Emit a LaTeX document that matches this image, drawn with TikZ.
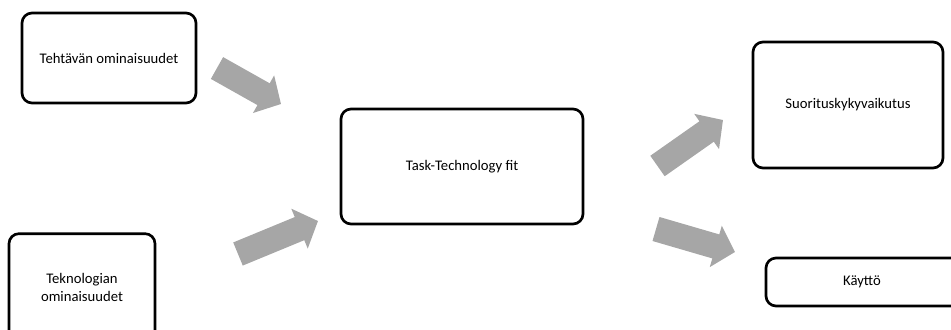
\documentclass[tikz,border=0pt]{standalone}
\usepackage{fontspec}
\setmainfont{Carlito}
\usepackage{xcolor}
\usetikzlibrary{arrows.meta}
\definecolor{arrowgray}{RGB}{166,166,166}

\begin{document}
\begin{tikzpicture}[x=0.75pt, y=-0.75pt, line join=round,
    box/.style={draw, line width=2pt, rounded corners=7.5pt, align=center,
        font=\fontsize{11}{13.5}\selectfont, inner sep=2pt},
    blockarrow/.style={draw=arrowgray, line width=18.75pt, line cap=butt,
        -{Triangle[length=15pt, width=31.5pt, fill=arrowgray]}}]
    % Frame
    \useasboundingbox (0,0) rectangle (951,329);

    % Boxes
    \node[box, minimum width=130.5pt, minimum height=67.5pt] (task) at (109,58) {Tehtävän ominaisuudet};
    \node[box, minimum width=109.5pt, minimum height=80pt] (tech) at (82,287) {Teknologian\\ominaisuudet};
    \node[box, minimum width=181.5pt, minimum height=86.25pt] (ttf) at (462,166.5) {Task-Technology fit};
    \node[box, minimum width=142.5pt, minimum height=94.5pt] (perf) at (848,105) {Suorituskykyvaikutus};
    \node[box, minimum width=165pt, minimum height=36pt] (use) at (876,282) {};
    \node[font=\fontsize{11}{13.5}\selectfont] (uselabel) at (862,282) {Käyttö};

    % Arrow ends
    \coordinate (a1s) at (217,68);
    \coordinate (a1e) at (281,104);
    \coordinate (a2s) at (238,254);
    \coordinate (a2e) at (318,221);
    \coordinate (a3s) at (657.5,166);
    \coordinate (a3e) at (723,120);
    \coordinate (a4s) at (656,229);
    \coordinate (a4e) at (735,252);

    % Block arrows
    \foreach \s/\e in {a1s/a1e, a2s/a2e, a3s/a3e, a4s/a4e}{
        \draw[blockarrow] (\s) -- (\e);
    }

\end{tikzpicture}
\end{document}
